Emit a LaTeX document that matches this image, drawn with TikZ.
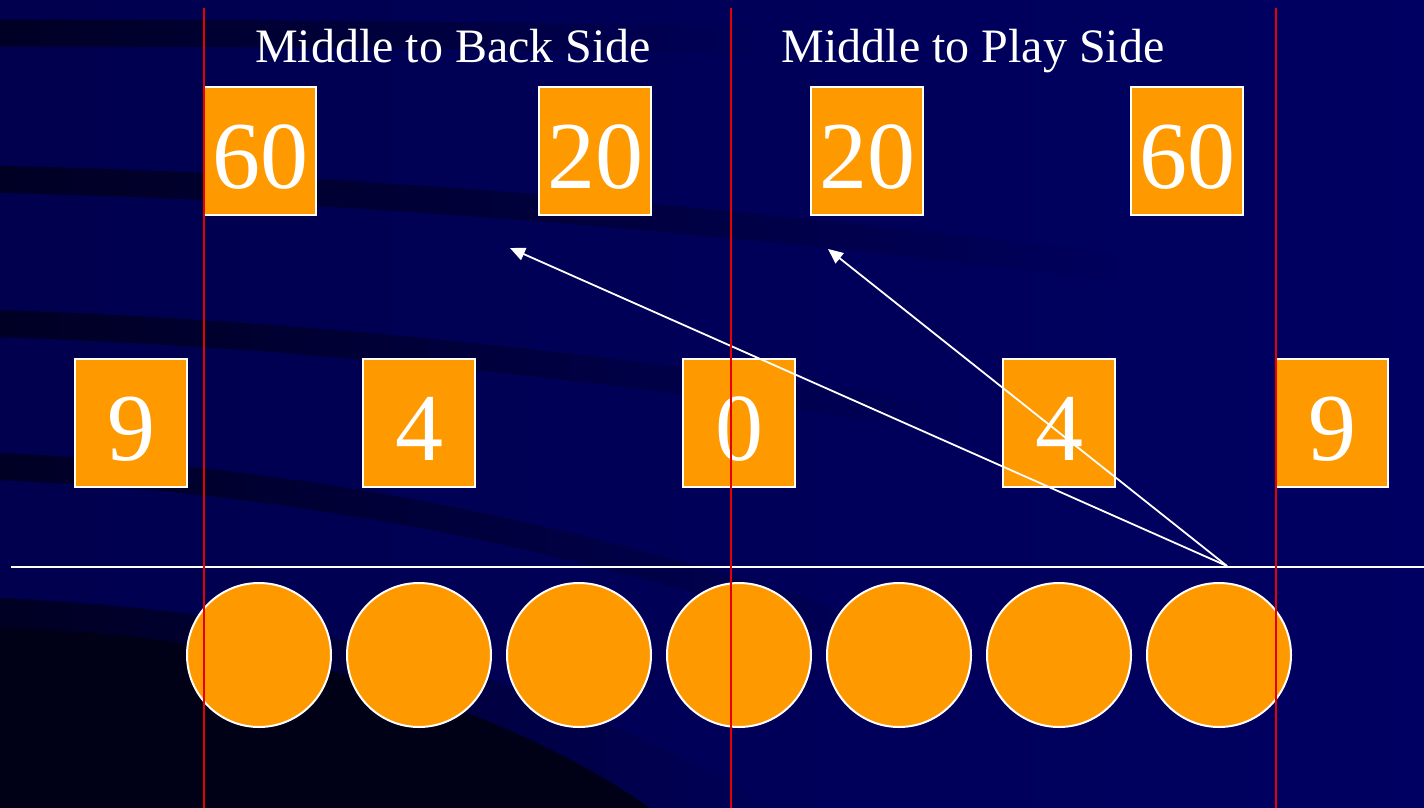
\documentclass[tikz,border=0pt]{standalone}
\usepackage{fontspec}
\setmainfont{Liberation Serif}
\usetikzlibrary{arrows.meta,fadings}
\definecolor{navyL}{RGB}{0,0,78}
\definecolor{navyR}{RGB}{0,0,98}
\definecolor{bandC}{RGB}{0,0,36}
\definecolor{deepC}{RGB}{0,0,22}
\definecolor{orangeC}{RGB}{255,153,0}
\definecolor{redC}{RGB}{230,0,0}
\tikzset{
  numbox/.style={draw=white, line width=1.5pt, fill=orangeC, minimum width=112pt, minimum height=128pt,
    inner sep=0pt, text=white, font=\fontsize{96}{96}\selectfont, text height=74pt, text depth=0pt},
  player/.style={circle, draw=white, line width=2pt, fill=orangeC, minimum size=144pt, inner sep=0pt},
  heading/.style={text=white, font=\fontsize{48}{48}\selectfont, inner sep=0pt, anchor=base},
  band/.style={draw=bandC, line width=27pt, path fading=east},
  route/.style={draw=white, line width=1.8pt, -{Triangle[length=15pt,width=13pt]}},
  divider/.style={draw=redC, line width=2pt},
  scrim/.style={draw=white, line width=2pt}
}
\begin{document}
\begin{tikzpicture}[x=1pt,y=-1pt]
\useasboundingbox (0,0) rectangle (1424,808);
% background
\shade[left color=navyL, right color=navyR] (0,0) rectangle (1424,808);
\draw[band] (-20,33) .. controls (300,33) and (500,36) .. (760,40);
\draw[band] (-20,179) .. controls (300,185) and (700,215) .. (1120,268);
\draw[band] (-20,323) .. controls (300,333) and (600,365) .. (960,420);
\draw[band] (-20,466) .. controls (250,475) and (550,520) .. (920,650);
\fill[bandC, path fading=east] (0,598) .. controls (250,610) and (500,650) .. (780,808) -- (0,808) -- cycle;
\fill[deepC] (0,627) .. controls (250,638) and (480,690) .. (650,808) -- (0,808) -- cycle;
% headings
\node[heading] (hb) at (453,63) {Middle to Back Side};
\node[heading] (hp) at (973,63) {Middle to Play Side};
% top row
\node[numbox] (a1) at (260,151) {60};
\node[numbox] (a2) at (595,151) {20};
\node[numbox] (a3) at (867,151) {20};
\node[numbox] (a4) at (1187,151) {60};
% middle row
\node[numbox] (b1) at (131,423) {9};
\node[numbox] (b2) at (419,423) {4};
\node[numbox] (b3) at (739,423) {0};
\node[numbox] (b4) at (1059,423) {4};
\node[numbox] (b5) at (1332,423) {9};
% scrimmage line
\coordinate (sl) at (11,567);
\coordinate (sr) at (1424,567);
\draw[scrim] (sl) -- (sr);
% players
\foreach \i/\x in {1/259,2/419,3/579,4/739,5/899,6/1059,7/1219}
  \node[player] (p\i) at (\x,655) {};
% routes
\coordinate (src) at (1227,566);
\coordinate (tb) at (510,248);
\coordinate (tp) at (828,249);
\draw[route] (src) -- (tb);
\draw[route] (src) -- (tp);
% dividers
\coordinate (d1t) at (203.5,8);  \coordinate (d1b) at (203.5,808);
\coordinate (d2t) at (731,8);    \coordinate (d2b) at (731,808);
\coordinate (d3t) at (1275.5,8); \coordinate (d3b) at (1275.5,808);
\draw[divider] (d1t) -- (d1b);
\draw[divider] (d2t) -- (d2b);
\draw[divider] (d3t) -- (d3b);
\end{tikzpicture}
\end{document}
